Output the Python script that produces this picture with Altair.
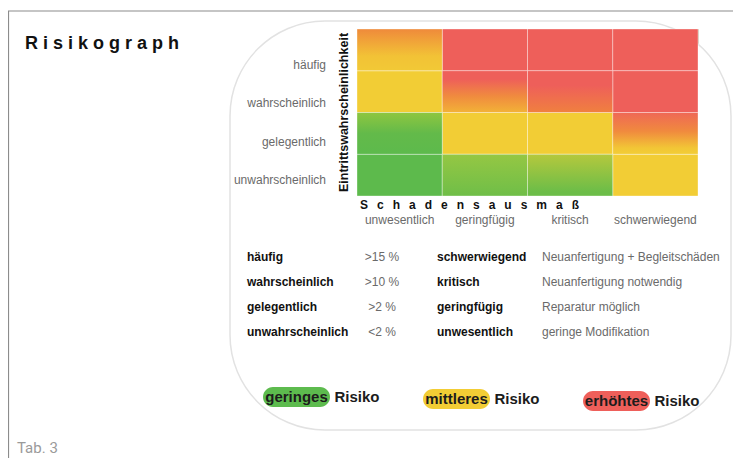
import altair as alt
import pandas as pd

# ---------------- data ----------------
likelihood = ["häufig", "wahrscheinlich", "gelegentlich", "unwahrscheinlich"]
severity = ["unwesentlich", "geringfügig", "kritisch", "schwerwiegend"]
# gradient class of each cell, rows = likelihood (top to bottom), cols = severity
cell_grad = [
    ["orange_yellow", "red", "red", "red"],
    ["yellow", "red_yellow", "red_orange", "red"],
    ["lgreen_green", "yellow", "yellow", "red_yellow_b"],
    ["green", "lgreen_green2", "ygreen_green", "yellow"],
]
likelihood_pct = [">15 %", ">10 %", ">2 %", "<2 %"]
severity_table = ["schwerwiegend", "kritisch", "geringfügig", "unwesentlich"]
severity_desc = ["Neuanfertigung + Begleitschäden", "Neuanfertigung notwendig",
                 "Reparatur möglich", "geringe Modifikation"]
risk_levels = ["geringes", "mittleres", "erhöhtes"]
risk_word = "Risiko"
title_text = "Risikograph"
y_title = "Eintrittswahrscheinlichkeit"
x_title = "Schadensausmaß"
caption = "Tab. 3"

# ---------------- styles ----------------
RED = "#EE5F5A"
YELLOW = "#F2CD35"
GREEN = "#5DBA4C"
GRADIENTS = {
    "red": [(0, RED), (1, RED)],
    "yellow": [(0, YELLOW), (1, YELLOW)],
    "green": [(0, GREEN), (1, GREEN)],
    "orange_yellow": [(0, "#EF8A3B"), (0.65, "#F2C236"), (1, "#F2C936")],
    "red_yellow": [(0, RED), (0.2, RED), (0.6, "#F08A3F"), (1, "#F2B237")],
    "red_orange": [(0, RED), (0.35, RED), (1, "#F0803F")],
    "red_yellow_b": [(0, "#EF6856"), (0.45, "#F08A3E"), (0.85, "#F2C636"), (1, YELLOW)],
    "lgreen_green": [(0, "#8FC640"), (0.5, "#63BA4A"), (1, GREEN)],
    "lgreen_green2": [(0, "#95C743"), (1, "#6FBE48")],
    "ygreen_green": [(0, "#B5C83D"), (0.9, "#6CBD48"), (1, "#6CBD48")],
}
RISK_COLORS = ["#5DBB4E", "#F2CD35", "#EE5F5A"]
FONT = "Liberation Sans"
GRAY = "#6a6a6a"


def spaced(word, sep):
    return sep.join(list(word))


cells = pd.DataFrame([
    {"lik": l, "sev": s, "g": cell_grad[i][j]}
    for i, l in enumerate(likelihood) for j, s in enumerate(severity)
])

xs = alt.Scale(domain=severity, paddingInner=0, paddingOuter=0)
ys = alt.Scale(domain=likelihood, paddingInner=0, paddingOuter=0)

heat_layers = []
for key, stops in GRADIENTS.items():
    grad = alt.LinearGradient(
        gradient="linear", x1=0, x2=0, y1=0, y2=1,
        stops=[alt.GradientStop(offset=o, color=c) for o, c in stops])
    heat_layers.append(
        alt.Chart(cells).transform_filter(alt.datum.g == key)
        .mark_rect(fill=grad, stroke="#ffffff", strokeOpacity=0.35, strokeWidth=1)
        .encode(x=alt.X("sev:N", scale=xs, axis=None),
                y=alt.Y("lik:N", scale=ys, axis=None))
    )
heat = alt.layer(*heat_layers)

one = pd.DataFrame({"a": [0]})

frame_top = alt.Chart(one).mark_rule(color="#8c8c8c", strokeWidth=1.2).encode(
    x=alt.value(-349), x2=alt.value(376), y=alt.value(-18))
frame_left = alt.Chart(one).mark_rule(color="#8c8c8c", strokeWidth=1.2).encode(
    x=alt.value(-348.5), y=alt.value(-18), y2=alt.value(430))
panel = alt.Chart(one).mark_rect(
    fill="white", stroke="#e2e2e2", strokeWidth=1.5, cornerRadius=95).encode(
    x=alt.value(-127), x2=alt.value(374), y=alt.value(-8), y2=alt.value(401))

title = alt.Chart(pd.DataFrame({"t": [spaced(title_text, "\u00a0")]})).mark_text(
    font=FONT, fontSize=18, fontWeight="bold", color="#111111",
    align="left", baseline="alphabetic").encode(
    x=alt.value(-332), y=alt.value(20), text="t:N")

ytitle = alt.Chart(pd.DataFrame({"t": [y_title]})).mark_text(
    font=FONT, fontSize=12.5, fontWeight="bold", color="#111111",
    angle=270, align="center", baseline="middle").encode(
    x=alt.value(-13), y=alt.value(83.5), text="t:N")

xtitle = alt.Chart(pd.DataFrame({"t": [spaced(x_title, "\u2002\u2005")]})).mark_text(
    font=FONT, fontSize=12, fontWeight="bold", color="#111111",
    align="left", baseline="middle").encode(
    x=alt.value(3), y=alt.value(175.5), text="t:N")

ylabels = alt.Chart(pd.DataFrame({"lik": likelihood})).mark_text(
    font=FONT, fontSize=12, color=GRAY, align="right", baseline="middle").encode(
    x=alt.value(-31),
    y=alt.Y("lik:N", scale=alt.Scale(type="point", domain=likelihood, range=[36, 151], padding=0), axis=None),
    text="lik:N")

xlabels = alt.Chart(pd.DataFrame({"sev": severity})).mark_text(
    font=FONT, fontSize=12, color=GRAY, align="center", baseline="middle").encode(
    x=alt.X("sev:N", scale=alt.Scale(type="band", domain=severity, paddingInner=0, paddingOuter=0), axis=None),
    y=alt.value(190.5), text="sev:N")

table = pd.DataFrame({"lik": likelihood, "pct": likelihood_pct,
                      "sev": severity_table, "desc": severity_desc})
ty = alt.Y("lik:N", scale=alt.Scale(type="point", domain=likelihood, range=[228, 303], padding=0), axis=None)
t1 = alt.Chart(table).mark_text(font=FONT, fontSize=12, fontWeight="bold", color="#111111",
                                align="left", baseline="middle").encode(
    x=alt.value(-110), y=ty, text="lik:N")
t2 = alt.Chart(table).mark_text(font=FONT, fontSize=12, color=GRAY,
                                align="center", baseline="middle").encode(
    x=alt.value(25), y=ty, text="pct:N")
t3 = alt.Chart(table).mark_text(font=FONT, fontSize=12, fontWeight="bold", color="#111111",
                                align="left", baseline="middle").encode(
    x=alt.value(80), y=ty, text="sev:N")
t4 = alt.Chart(table).mark_text(font=FONT, fontSize=12, color=GRAY,
                                align="left", baseline="middle").encode(
    x=alt.value(185), y=ty, text="desc:N")

leg = pd.DataFrame({"risk": risk_levels, "word": [risk_word] * len(risk_levels)})
lx = alt.X("risk:N", scale=alt.Scale(type="point", domain=risk_levels, range=[-60.5, 259.5], padding=0), axis=None)
lyy = alt.Y("risk:N", scale=alt.Scale(type="point", domain=risk_levels, range=[368, 372], padding=0), axis=None)
pills = alt.Chart(leg).mark_rect(width=67, height=20, cornerRadius=10).encode(
    x=lx, y=lyy,
    color=alt.Color("risk:N", scale=alt.Scale(domain=risk_levels, range=RISK_COLORS), legend=None))
pill_text = alt.Chart(leg).mark_text(font=FONT, fontSize=15, fontWeight="bold", color="#1c1c1c",
                                     align="center", baseline="middle").encode(
    x=lx, y=lyy, text="risk:N")
risk_text = alt.Chart(leg).mark_text(font=FONT, fontSize=15, fontWeight="bold", color="#1c1c1c",
                                     align="left", baseline="middle", dx=38).encode(
    x=lx, y=lyy, text="word:N")

cap = alt.Chart(pd.DataFrame({"t": [caption]})).mark_text(
    font="Liberation Sans Narrow, Roboto", fontSize=15, color="#9a9a9a",
    align="left", baseline="middle").encode(
    x=alt.value(-340), y=alt.value(419), text="t:N")

chart = alt.layer(
    panel, frame_top, frame_left, heat, title, ytitle, xtitle, ylabels, xlabels,
    t1, t2, t3, t4, pills, pill_text, risk_text, cap
).resolve_scale(
    x="independent", y="independent", color="independent"
).properties(
    width=341, height=167,
    autosize=alt.AutoSizeParams(type="none"),
    padding={"left": 349, "top": 21, "right": 35, "bottom": 262},
    background="white",
).configure_view(stroke="#b9a98f", strokeOpacity=0.6, strokeWidth=1)

chart.save("out.html", embed_options={"renderer": "svg", "actions": False})
